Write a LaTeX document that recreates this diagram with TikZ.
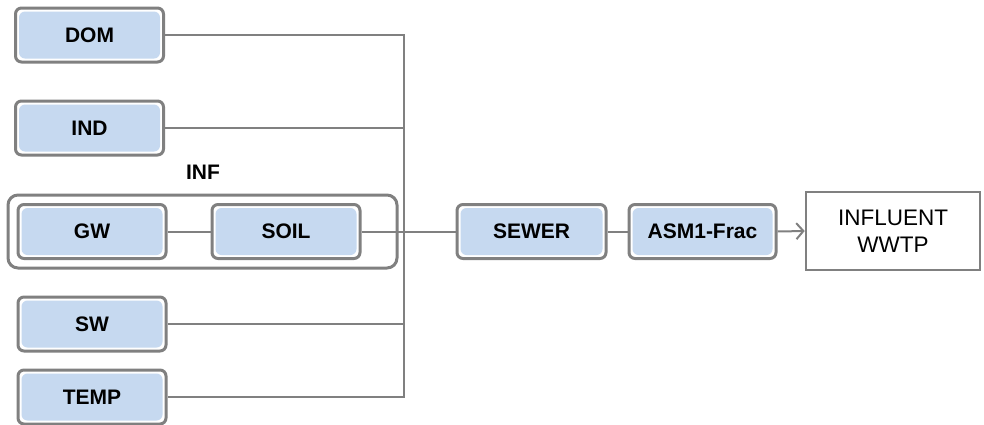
\documentclass[tikz,border=0pt]{standalone}
\usepackage{fontspec}
\setmainfont{Liberation Sans}
\usetikzlibrary{arrows.meta}
\definecolor{edgegray}{RGB}{128,128,128}
\definecolor{boxblue}{RGB}{198,217,240}
\tikzset{
  blk/.style={draw=edgegray, line width=3pt, rounded corners=6pt, fill=white,
    minimum width=#1, minimum height=54pt, inner sep=0pt,
    font=\fontsize{21}{24}\selectfont\bfseries,
    path picture={\fill[boxblue]
      ([shift={(3.5pt,-3.5pt)}]path picture bounding box.north west) rectangle
      ([shift={(-3.5pt,3.5pt)}]path picture bounding box.south east);}},
  blk/.default=148pt,
  group/.style={draw=edgegray, line width=3pt, rounded corners=10pt,
    minimum width=389pt, minimum height=73pt, inner sep=0pt},
  outbox/.style={draw=edgegray, line width=2.6pt, fill=white,
    minimum width=174pt, minimum height=78pt, inner sep=0pt, align=center,
    font=\fontsize{22.5}{27}\selectfont},
  conn/.style={draw=edgegray, line width=2pt},
  lbl/.style={font=\fontsize{21}{24}\selectfont\bfseries}
}
\begin{document}
\begin{tikzpicture}[x=1pt, y=-1pt]
  \useasboundingbox (0,0) rectangle (984,424);

  % grouping frame for the infiltration sub-model
  \node[group] (inf) at (202.5,231.5) {};
  \node[lbl] (inflbl) at (203,172) {INF};

  % source blocks
  \node[blk] (dom)  at (89.5,35)  {DOM};
  \node[blk] (ind)  at (89.5,128) {IND};
  \node[blk] (gw)   at (92,231.5) {GW};
  \node[blk] (soil) at (286,231.5) {SOIL};
  \node[blk] (sw)   at (92,324)   {SW};
  \node[blk] (temp) at (92,397)   {TEMP};

  % downstream chain
  \node[blk=149pt] (sewer) at (531.5,231.5) {SEWER};
  \node[blk=147pt] (asm)   at (702.5,231.5) {ASM1-Frac};
  \node[outbox] (wwtp) at (893,231) {INFLUENT\\WWTP};

  % collector bus
  \coordinate (bustop) at (404,35);
  \coordinate (busbot) at (404,397);

  \draw[conn] (dom.east) -- (bustop) -- (busbot) -- (temp.east);
  \draw[conn] (ind.east) -- (ind.east -| bustop);
  \draw[conn] (sw.east) -- (sw.east -| bustop);
  \draw[conn] (gw.east) -- (soil.west);
  \draw[conn] (soil.east) -- (sewer.west);
  \draw[conn] (sewer.east) -- (asm.west);
  \draw[conn, -{Straight Barb[length=7pt, width=16pt, line width=2pt]}]
    (asm.east) -- (wwtp.west);
\end{tikzpicture}
\end{document}
